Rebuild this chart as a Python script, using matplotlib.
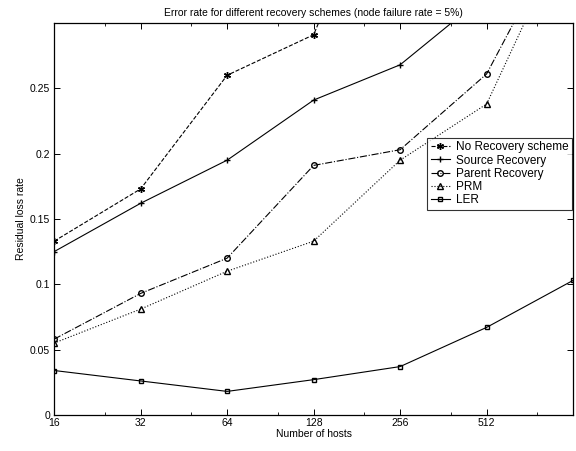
import matplotlib
matplotlib.use("Agg")
import matplotlib.pyplot as plt
from matplotlib.ticker import FixedLocator, NullFormatter

hosts = [16, 32, 64, 128, 256, 512, 1024]
no_recovery = [0.133, 0.173, 0.260, 0.291, 0.45, 0.55, 0.65]
source_rec = [0.125, 0.162, 0.195, 0.241, 0.268, 0.322, 0.40]
parent_rec = [0.058, 0.093, 0.120, 0.191, 0.203, 0.261, 0.386]
prm = [0.055, 0.081, 0.110, 0.133, 0.195, 0.238, 0.38]
ler = [0.034, 0.026, 0.018, 0.027, 0.037, 0.067, 0.103]

xticks = [16, 32, 64, 128, 256, 512]
yticks = [0, 0.05, 0.1, 0.15, 0.2, 0.25]
ytick_labels = ["0", "0.05", "0.1", "0.15", "0.2", "0.25"]

plt.rcParams["font.family"] = ["Liberation Sans", "DejaVu Sans"]
plt.rcParams["font.size"] = 7.5

fig = plt.figure(figsize=(5.76, 4.51), dpi=100)
ax = fig.add_axes([0.094, 0.080, 0.901, 0.869])

lw = 0.8
ax.plot(hosts, no_recovery, color="k", ls="--", lw=lw, marker=(6, 2, 0), ms=5, label="No Recovery scheme")
ax.plot(hosts, source_rec, color="k", ls="-", lw=lw, marker="+", ms=5, label="Source Recovery")
ax.plot(hosts, parent_rec, color="k", ls="-.", lw=lw, marker="o", ms=4, mfc="none", label="Parent Recovery")
ax.plot(hosts, prm, color="k", ls=":", lw=lw, marker="^", ms=4, mfc="none", label="PRM")
ax.plot(hosts, ler, color="k", ls="-", lw=lw, marker="s", ms=3.5, mfc="none", label="LER")

ax.set_xscale("log", base=2)
ax.set_xlim(16, 1024)
ax.set_ylim(0, 0.3)
ax.xaxis.set_major_locator(FixedLocator(xticks))
ax.set_xticklabels([str(t) for t in xticks])
ax.xaxis.set_minor_locator(FixedLocator([24, 48, 96, 192, 384, 768]))
ax.xaxis.set_minor_formatter(NullFormatter())
ax.set_yticks(yticks)
ax.set_yticklabels(ytick_labels)
ax.tick_params(direction="in", top=True, right=True, length=4, width=0.7, pad=2)
ax.tick_params(axis="y", pad=3)
ax.tick_params(which="minor", direction="in", top=True, length=2)
for s in ax.spines.values():
    s.set_linewidth(0.9)

ax.set_xlabel("Number of hosts", labelpad=1)
ax.set_ylabel("Residual loss rate", labelpad=3)
ax.set_title("Error rate for different recovery schemes (node failure rate = 5%)", fontsize=7.5, pad=5)

leg = ax.legend(loc="upper right", bbox_to_anchor=(1.0, 0.71), fontsize=8.5, frameon=True,
                fancybox=False, edgecolor="k", handlelength=1.6, borderpad=0.3,
                labelspacing=0.1, handletextpad=0.5, borderaxespad=0.1)
leg.get_frame().set_linewidth(0.8)

fig.savefig("out.png", dpi=100)
